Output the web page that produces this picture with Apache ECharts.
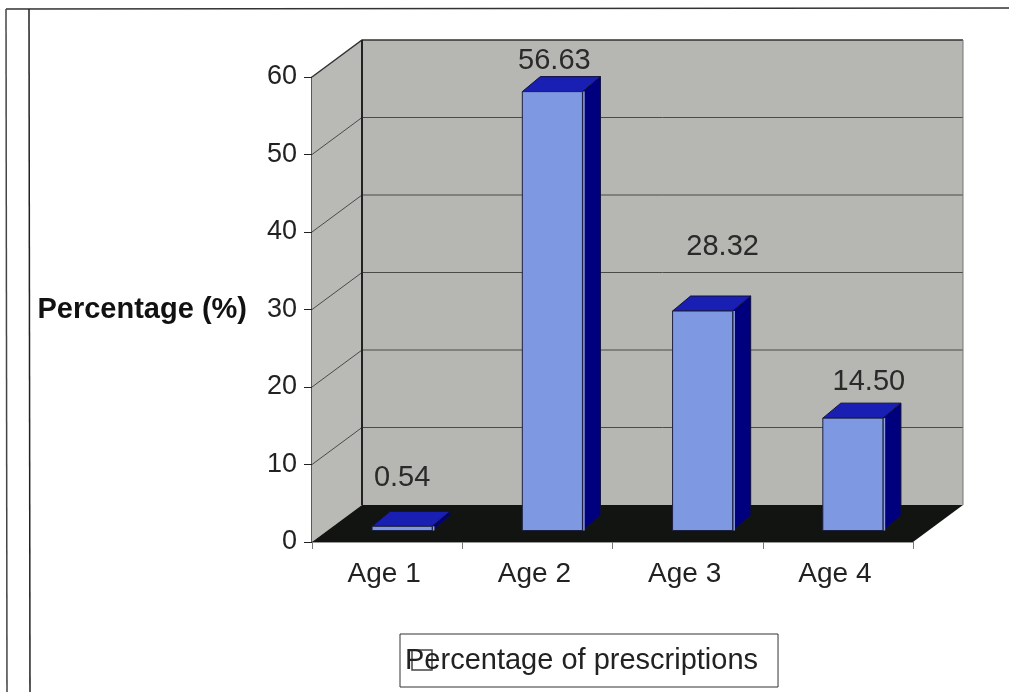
<!DOCTYPE html>
<html>
<head>
<meta charset="utf-8">
<style>html,body{margin:0;padding:0;background:#fff}#c{width:1009px;height:692px}</style>
<script src="https://cdn.jsdelivr.net/npm/echarts@6/dist/echarts.min.js"></script>
</head>
<body>
<div id="c"></div>
<script>
var categories = ['Age 1', 'Age 2', 'Age 3', 'Age 4'];
var percentages = [0.54, 56.63, 28.32, 14.50];
var valueLabels = ['0.54', '56.63', '28.32', '14.50'];
var yTicks = [0, 10, 20, 30, 40, 50, 60];
var seriesName = 'Percentage of prescriptions';
var yAxisName = 'Percentage (%)';

// 3D look (pixels)
var WALL_DX = 50, WALL_DY = -37;
var BAR_SHIFT_X = 15, BAR_SHIFT_Y = -11.5, BAR_DX = 18, BAR_DY = -15;
var labelNudge = [[0, -33], [2, -16], [20, -49], [16, -21]];
var FONT = '"Liberation Sans", Arial, sans-serif';

var chart = echarts.init(document.getElementById('c'), null, { renderer: 'canvas' });

function renderWalls(params, api) {
  var cs = params.coordSys;
  var L = cs.x, R = cs.x + cs.width;
  var y0 = api.coord([0, 0])[1], yT = api.coord([0, yTicks[yTicks.length - 1]])[1];
  var wall = '#b6b6b2';
  var kids = [
    { type: 'polygon', shape: { points: [[L, yT], [L + WALL_DX, yT + WALL_DY], [L + WALL_DX, y0 + WALL_DY], [L, y0]] }, style: { fill: '#b9b9b6' } },
    { type: 'rect', shape: { x: L + WALL_DX, y: yT + WALL_DY, width: cs.width, height: y0 - yT }, style: { fill: wall } },
    { type: 'polygon', shape: { points: [[L, y0], [R, y0], [R + WALL_DX, y0 + WALL_DY], [L + WALL_DX, y0 + WALL_DY]] }, style: { fill: '#121412' } }
  ];
  yTicks.forEach(function (t) {
    var y = api.coord([0, t])[1];
    if (t > 0) {
      kids.push({ type: 'polyline', shape: { points: [[L, y], [L + WALL_DX, y + WALL_DY], [R + WALL_DX, y + WALL_DY]] }, style: { fill: null, stroke: t === 60 ? '#333' : '#4a4a48', lineWidth: t === 60 ? 1.5 : 1 } });
    }
  });
  kids.push({ type: 'line', shape: { x1: L + WALL_DX, y1: yT + WALL_DY, x2: L + WALL_DX, y2: y0 + WALL_DY }, style: { stroke: '#222', lineWidth: 2 } });
  kids.push({ type: 'line', shape: { x1: R + WALL_DX, y1: yT + WALL_DY, x2: R + WALL_DX, y2: y0 + WALL_DY }, style: { stroke: '#777', lineWidth: 1 } });
  return { type: 'group', children: kids };
}

function renderBar(params, api) {
  var i = api.value(0);
  var top = api.coord([i, api.value(1)]);
  var base = api.coord([i, 0]);
  var w = api.size([1, 0])[0] * 0.4;
  var l = top[0] - w / 2 + BAR_SHIFT_X, r = l + w;
  var t = top[1] + BAR_SHIFT_Y, b = base[1] + BAR_SHIFT_Y;
  var edge = { stroke: '#10103a', lineWidth: 1 };
  var nudge = labelNudge[params.dataIndex];
  return {
    type: 'group',
    children: [
      { type: 'polygon', shape: { points: [[r, t], [r + BAR_DX, t + BAR_DY], [r + BAR_DX, b + BAR_DY], [r, b]] }, style: Object.assign({ fill: '#00007e' }, edge) },
      { type: 'polygon', shape: { points: [[l, t], [l + BAR_DX, t + BAR_DY], [r + BAR_DX, t + BAR_DY], [r, t]] }, style: Object.assign({ fill: '#1a1fb4' }, edge) },
      { type: 'rect', shape: { x: l, y: t, width: w, height: b - t }, style: { fill: '#7f98e2', stroke: '#1c2040', lineWidth: 1 } },
      { type: 'line', shape: { x1: r + 1.5, y1: t, x2: r + 1.5, y2: b }, style: { stroke: '#8f9fe0', lineWidth: 1.5 } },
      { type: 'text', style: { text: valueLabels[params.dataIndex], x: (l + r + BAR_DX) / 2 + nudge[0] - BAR_DX / 2, y: t + BAR_DY + nudge[1], align: 'center', verticalAlign: 'middle', font: '29px ' + FONT, fill: '#2a2a2a' } }
    ]
  };
}

chart.setOption({
  animation: false,
  backgroundColor: '#fff',
  grid: { left: 312, right: 96, top: 77, bottom: 150, containLabel: false },
  xAxis: {
    type: 'category',
    data: categories,
    axisLine: { lineStyle: { color: '#999', width: 1 } },
    axisTick: { show: true, length: 7, lineStyle: { color: '#777' }, alignWithLabel: false },
    axisLabel: { color: '#222', fontSize: 28, fontFamily: FONT, margin: 18, interval: 0, padding: [0, 6, 0, 0] },
    splitLine: { show: false }
  },
  yAxis: {
    type: 'value',
    min: 0, max: 60, interval: 10,
    name: yAxisName,
    nameLocation: 'middle',
    nameRotate: 0,
    nameGap: 65,
    nameTextStyle: { color: '#111', fontSize: 29, fontWeight: 'bold', fontFamily: FONT, align: 'right', verticalAlign: 'middle', padding: [4, 0, 0, 0] },
    axisLine: { show: true, lineStyle: { color: '#222', width: 1.5 } },
    axisTick: { show: true, length: 8, lineStyle: { color: '#222' } },
    axisLabel: { color: '#222', fontSize: 27, fontFamily: FONT, margin: 15 },
    splitLine: { show: false }
  },
  legend: {
    left: 400, top: 634,
    data: [seriesName],
    icon: 'rect',
    itemWidth: 0, itemHeight: 0,
    padding: [12, 20, 12, 0],
    borderColor: '#333', borderWidth: 1,
    selectedMode: false,
    textStyle: { color: '#222', fontSize: 29, fontFamily: FONT, padding: 0 }
  },
  graphic: [
    { type: 'line', shape: { x1: 6, y1: 9, x2: 1009, y2: 8 }, style: { stroke: '#333', lineWidth: 1.5 } },
    { type: 'line', shape: { x1: 6, y1: 9, x2: 7, y2: 692 }, style: { stroke: '#444', lineWidth: 1.5 } },
    { type: 'line', shape: { x1: 29, y1: 9, x2: 30, y2: 692 }, style: { stroke: '#222', lineWidth: 1.5 } },
    { type: 'rect', shape: { x: 412, y: 650, width: 20, height: 20 }, style: { fill: null, stroke: '#444', lineWidth: 1.5 } }
  ],
  series: [
    { type: 'custom', name: 'walls', silent: true, z: 1, clip: false, renderItem: renderWalls, data: [[0, 0]], encode: { x: 0, y: 1 } },
    { type: 'custom', name: seriesName, z: 2, clip: false, renderItem: renderBar, itemStyle: { color: '#7f98e2' },
      data: percentages.map(function (v, i) { return [i, v]; }), encode: { x: 0, y: 1 } }
  ]
});
</script>
</body>
</html>
